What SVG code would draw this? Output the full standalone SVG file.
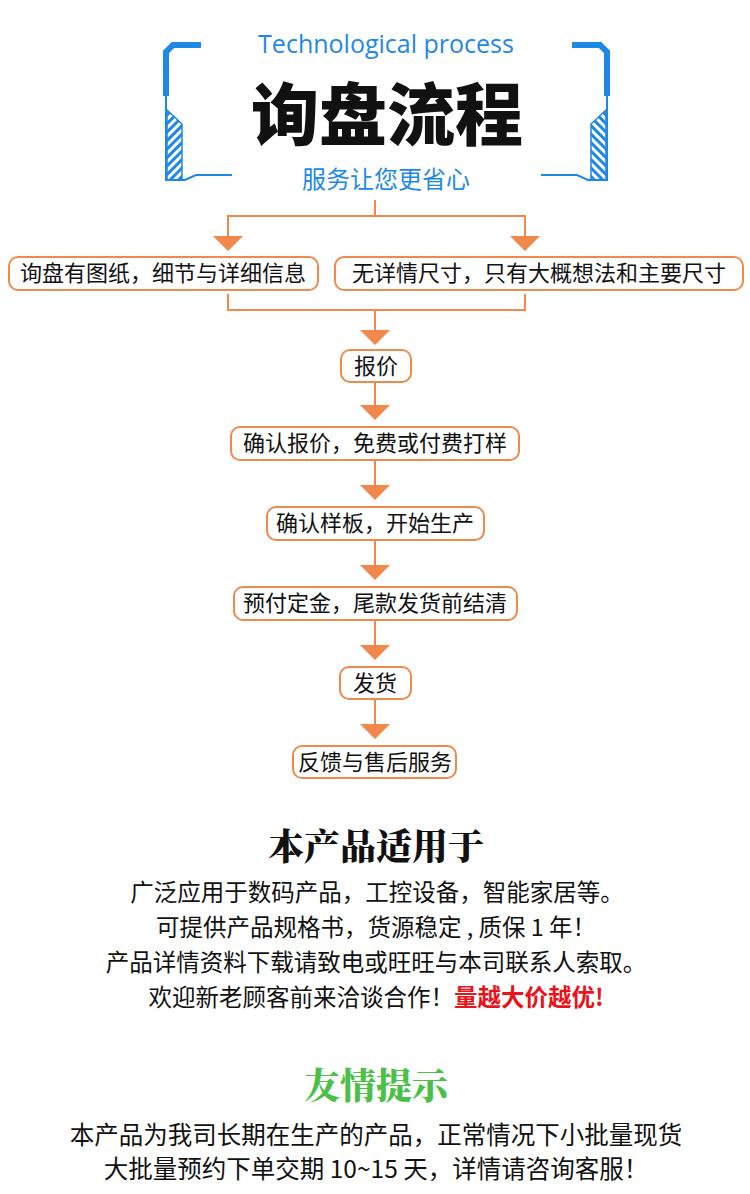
<svg xmlns="http://www.w3.org/2000/svg" width="750" height="1194" viewBox="0 0 750 1194">
<style>
.b{fill:#fff;stroke:#f0894b;stroke-width:2}
.t{font-family:"Noto Sans CJK SC",sans-serif;font-size:22px;fill:#111;text-anchor:middle}
.l{fill:none;stroke:#f0894b;stroke-width:2}
.a{fill:#f0894b}
.blue{fill:none;stroke:#1e88e5}
.p{font-family:"Noto Sans CJK SC",sans-serif;font-size:23.5px;fill:#111;text-anchor:middle}
.q{font-family:"Noto Sans CJK SC",sans-serif;font-size:24.5px;fill:#111;text-anchor:middle}
</style>
<defs>
<pattern id="h" width="6" height="6" patternUnits="userSpaceOnUse" patternTransform="rotate(-45)"><rect width="6" height="3" fill="#1e88e5"/></pattern>
<g id="br">
<path d="M201,45 H173 L166,52 V96" class="blue" stroke-width="6"/>
<path d="M166,96 V180 H185 L196,175 H232" class="blue" stroke-width="2"/>
<path d="M167,110 L182,124 V180 H167 Z" fill="url(#h)" stroke="#1e88e5" stroke-width="1.5"/>
</g>
</defs>
<rect width="750" height="1194" fill="#fff"/>
<g id="header">
<use href="#br"/>
<use href="#br" transform="translate(773,0) scale(-1,1)"/>
<text x="386" y="53" font-family="Open Sans,sans-serif" font-size="25" fill="#1e88e5" text-anchor="middle">Technological process</text>
<text x="387" y="140" font-family="Noto Sans CJK SC,sans-serif" font-size="68" font-weight="900" fill="#111" text-anchor="middle">询盘流程</text>
<text x="386" y="188" font-family="Noto Sans CJK SC,sans-serif" font-size="24" fill="#1e88e5" text-anchor="middle">服务让您更省心</text>
</g>
<g id="connectors">
<path class="l" d="M375,200 V216 M228,238 V216 H525 V238 M228,294 V310 H525 V294 M375,310 V332 M375,382 V407 M375,460 V487 M375,540 V567 M375,620 V647 M375,699 V726"/>
<path class="a" d="M213,236 H243 L228,251 Z M510,236 H540 L525,251 Z M360,330 H390 L375,345 Z M360,405 H390 L375,420 Z M360,485 H390 L375,500 Z M360,565 H390 L375,580 Z M360,645 H390 L375,660 Z M360,724 H390 L375,739 Z"/>
</g>
<g id="n1"><rect class="b" x="9" y="257" width="309" height="33" rx="9"/><text class="t" x="163" y="281">询盘有图纸，细节与详细信息</text></g>
<g id="n2"><rect class="b" x="335" y="257" width="408" height="33" rx="9"/><text class="t" x="539" y="281">无详情尺寸，只有大概想法和主要尺寸</text></g>
<g id="n3"><rect class="b" x="341" y="350" width="70" height="32" rx="9"/><text class="t" x="376" y="374">报价</text></g>
<g id="n4"><rect class="b" x="231" y="427" width="288" height="33" rx="9"/><text class="t" x="375" y="451">确认报价，免费或付费打样</text></g>
<g id="n5"><rect class="b" x="267" y="507" width="217" height="33" rx="9"/><text class="t" x="375" y="531">确认样板，开始生产</text></g>
<g id="n6"><rect class="b" x="234" y="587" width="283" height="33" rx="9"/><text class="t" x="375" y="611">预付定金，尾款发货前结清</text></g>
<g id="n7"><rect class="b" x="340" y="667" width="71" height="32" rx="9"/><text class="t" x="375" y="691">发货</text></g>
<g id="n8"><rect class="b" x="293" y="746" width="163" height="32" rx="9"/><text class="t" x="375" y="770">反馈与售后服务</text></g>
<g id="apply">
<text x="376" y="860" font-family="Noto Serif CJK SC,Noto Sans CJK SC,serif" font-size="36" font-weight="900" fill="#111" text-anchor="middle">本产品适用于</text>
<text class="p" x="377" y="901">广泛应用于数码产品，工控设备，智能家居等。</text>
<text class="p" x="376" y="936">可提供产品规格书，货源稳定 , 质保 1 年！</text>
<text class="p" x="376" y="971">产品详情资料下载请致电或旺旺与本司联系人索取。</text>
<text class="p" x="376" y="1006">欢迎新老顾客前来洽谈合作！<tspan fill="#e8141b" font-weight="bold">量越大价越优!</tspan></text>
</g>
<g id="tips">
<text x="376" y="1099" font-family="Noto Serif CJK SC,Noto Sans CJK SC,serif" font-size="36" font-weight="900" fill="#4cbf4a" text-anchor="middle">友情提示</text>
<text class="q" x="376" y="1144">本产品为我司长期在生产的产品，正常情况下小批量现货</text>
<text class="q" x="376" y="1178">大批量预约下单交期 10~15 天，详情请咨询客服！</text>
</g>
</svg>
